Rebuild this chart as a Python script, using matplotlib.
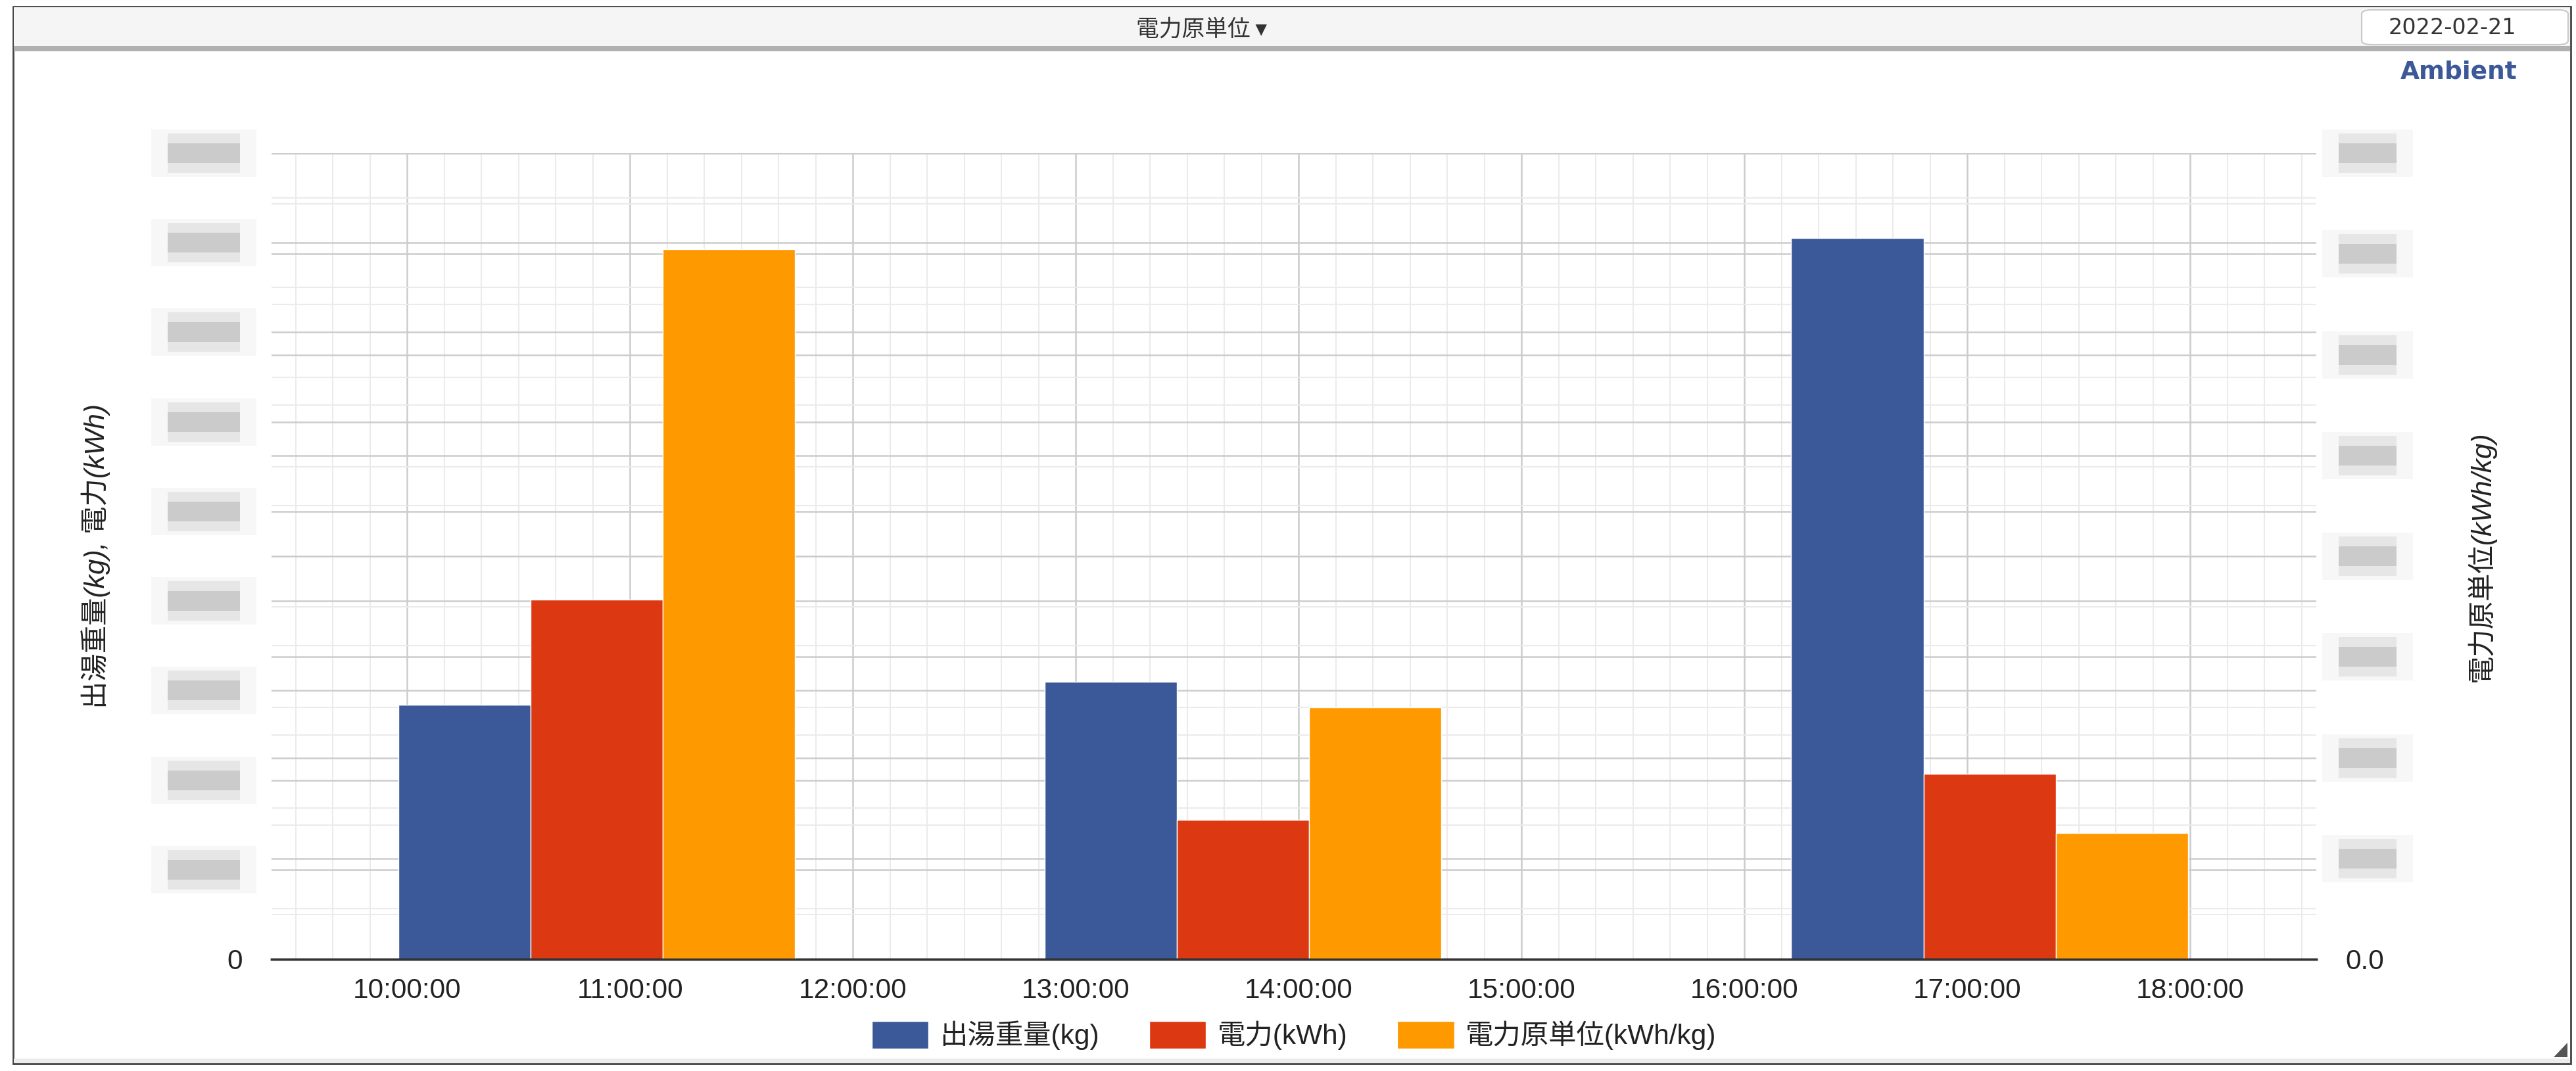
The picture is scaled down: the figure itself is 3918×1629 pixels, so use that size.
import matplotlib
matplotlib.use('Agg')
import numpy as np
import matplotlib.pyplot as plt
import matplotlib.transforms as mtransforms
from matplotlib.patches import Rectangle, FancyBboxPatch, Polygon
from matplotlib.ticker import MultipleLocator

plt.rcParams['font.family'] = ['Liberation Sans', 'Noto Sans CJK JP', 'DejaVu Sans']

# データ (読み取り値)
times = ['10:51', '13:45', '17:06']
weight_kg = [568, 620, 1611]
power_kwh = [803, 311, 414]
unit_kwh_per_kg = [1.41, 0.50, 0.25]
series_names = ['出湯重量(kg)', '電力(kWh)', '電力原単位(kWh/kg)']
colors = ['#3b5998', '#dc3912', '#ff9900']
hour_ticks = [10, 11, 12, 13, 14, 15, 16, 17, 18]
left_max, left_step = 1800, 200
right_max, right_step = 1.6, 0.2
title = '電力原単位'
date_label = '2022-02-21'


def to_hours(s):
    h, m = s.split(':')
    return int(h) + int(m) / 60


x = np.array([to_hours(t) for t in times])
bar_w = 0.593
xlim = (9.392, 18.566)

W, H = 3918, 1629
fig = plt.figure(figsize=(W / 100, H / 100), dpi=100)


def fx(px):
    return px / W


def fy(py):
    return 1 - py / H


def frame_patch(p):
    # 枠は軸より後ろに描く
    p.set_zorder(-10)
    fig.patches.append(p)


# パネル枠とヘッダー
frame_patch(Rectangle((fx(20), fy(1618)), fx(3910) - fx(20), fy(10) - fy(1618),
                      transform=fig.transFigure, fc='white', ec='#444444', lw=2))
frame_patch(Rectangle((fx(21), fy(72)), fx(3909) - fx(21), fy(11) - fy(72),
                      transform=fig.transFigure, fc='#f5f5f5', ec='none'))
frame_patch(Rectangle((fx(21), fy(78)), fx(3909) - fx(21), fy(70) - fy(78),
                      transform=fig.transFigure, fc='#b0b0b0', ec='none'))
frame_patch(Rectangle((fx(21), fy(1617)), fx(3909) - fx(21), fy(1610) - fy(1617),
                      transform=fig.transFigure, fc='#ececec', ec='none'))
frame_patch(FancyBboxPatch((fx(3592), fy(68)), fx(3906) - fx(3592), fy(15) - fy(68),
                           boxstyle='round,pad=0,rounding_size=0.004',
                           transform=fig.transFigure, fc='white', ec='#c8c8c8', lw=1.5))
frame_patch(Polygon([(fx(3884), fy(1608)), (fx(3905), fy(1608)), (fx(3905), fy(1586))],
                    closed=True, transform=fig.transFigure, fc='#555555', ec='none'))

fig.text(fx(1827), fy(45), title + ' ▾', ha='center', va='center', fontsize=25,
         color='#333333', family=['Noto Sans CJK JP', 'DejaVu Sans'])
fig.text(fx(3730), fy(43), date_label, ha='center', va='center', fontsize=24,
         color='#333333', family='DejaVu Sans')
fig.text(fx(3740), fy(110), 'Ambient', ha='center', va='center', fontsize=27,
         color='#3b5998', family='DejaVu Sans', weight='bold')

# プロット領域
rect = [fx(413), fy(1459), fx(3523) - fx(413), fy(233) - fy(1459)]
plot_h = 1459 - 233

# グリッド専用の軸 (棒の下に描く)
base = fig.add_axes(rect)
base.set_xlim(*xlim)
base.set_ylim(0, left_max)
base.xaxis.set_major_locator(MultipleLocator(1))
base.xaxis.set_minor_locator(MultipleLocator(1 / 6))
base.yaxis.set_major_locator(MultipleLocator(left_step))
base.yaxis.set_minor_locator(MultipleLocator(left_step / 2))
base.grid(which='minor', color='#ebebeb', lw=1.5)
base.grid(which='major', color='#cccccc', lw=1.8)
base.tick_params(which='both', length=0, labelleft=False, labelbottom=False)
for s in base.spines.values():
    s.set_visible(False)

base_r = base.twinx()
base_r.set_ylim(0, right_max)
base_r.yaxis.set_major_locator(MultipleLocator(right_step))
base_r.yaxis.set_minor_locator(MultipleLocator(right_step / 2))
base_r.grid(axis='y', which='minor', color='#ebebeb', lw=1.5)
base_r.grid(axis='y', which='major', color='#cccccc', lw=1.8)
base_r.tick_params(which='both', length=0, labelright=False)
for s in base_r.spines.values():
    s.set_visible(False)

# 棒グラフ
ax = fig.add_axes(rect)
ax.patch.set_visible(False)
ax.set_xlim(*xlim)
ax.set_ylim(0, left_max)
b1 = ax.bar(x - bar_w, weight_kg, bar_w, color=colors[0], edgecolor='white', lw=1)
b2 = ax.bar(x, power_kwh, bar_w, color=colors[1], edgecolor='white', lw=1)
ax.set_xticks(hour_ticks, labels=[f'{h}:00:00' for h in hour_ticks])
ax.set_yticks([0], labels=['0'])
ax.tick_params(axis='x', length=0, pad=20, labelsize=30.5, labelcolor='#222222')
ax.tick_params(axis='y', length=0, pad=32, labelsize=30.5, labelcolor='#222222')
for k, s in ax.spines.items():
    s.set_visible(k == 'bottom')
ax.spines['bottom'].set_color('#333333')
ax.spines['bottom'].set_linewidth(2.5)

ax2 = ax.twinx()
ax2.set_ylim(0, right_max)
b3 = ax2.bar(x + bar_w, unit_kwh_per_kg, bar_w, color=colors[2], edgecolor='white', lw=1)
ax2.set_yticks([0], labels=['0.0'])
ax2.tick_params(axis='y', length=0, pad=32, labelsize=30.5, labelcolor='#222222')
for k, s in ax2.spines.items():
    s.set_visible(k == 'bottom')
ax2.spines['bottom'].set_color('#333333')
ax2.spines['bottom'].set_linewidth(2.5)


# ぼかされた目盛ラベルの代わりの灰色ブロック
def blur_block(axis, value, x0, x1, ymax):
    tr = mtransforms.blended_transform_factory(axis.transAxes, axis.transData)
    dy = ymax / plot_h
    axis.add_patch(Rectangle((x0 - 0.008, value - 36 * dy), x1 - x0 + 0.016, 72 * dy,
                             transform=tr, fc='#f7f7f7', ec='none', clip_on=False))
    axis.add_patch(Rectangle((x0, value - 30 * dy), x1 - x0, 60 * dy,
                             transform=tr, fc='#e6e6e6', ec='none', clip_on=False))
    axis.add_patch(Rectangle((x0, value - 15 * dy), x1 - x0, 30 * dy,
                             transform=tr, fc='#cbcbcb', ec='none', clip_on=False))


for v in np.arange(left_step, left_max + 1, left_step):
    blur_block(ax, v, -0.0508, -0.0154, left_max)
for v in np.arange(right_step, right_max + 1e-9, right_step):
    blur_block(ax2, v, 1.0109, 1.0392, right_max)

# 軸タイトル
fig.text(fx(146), fy(846), '出湯重量(kg), 電力(kWh)', rotation=90, ha='center', va='center',
         style='italic', fontsize=30.5, color='#222222')
fig.text(fx(3773), fy(846), '電力原単位(kWh/kg)', rotation=90, ha='center', va='center',
         style='italic', fontsize=30.5, color='#222222')

# 凡例
fig.legend([b1, b2, b3], series_names, loc='center', bbox_to_anchor=(fx(1968), fy(1575)),
           ncol=3, frameon=False, fontsize=30.5, handlelength=2.04, handleheight=1.15,
           handletextpad=0.4, columnspacing=1.8, labelcolor='#222222')

fig.savefig('out.png', dpi=100)
